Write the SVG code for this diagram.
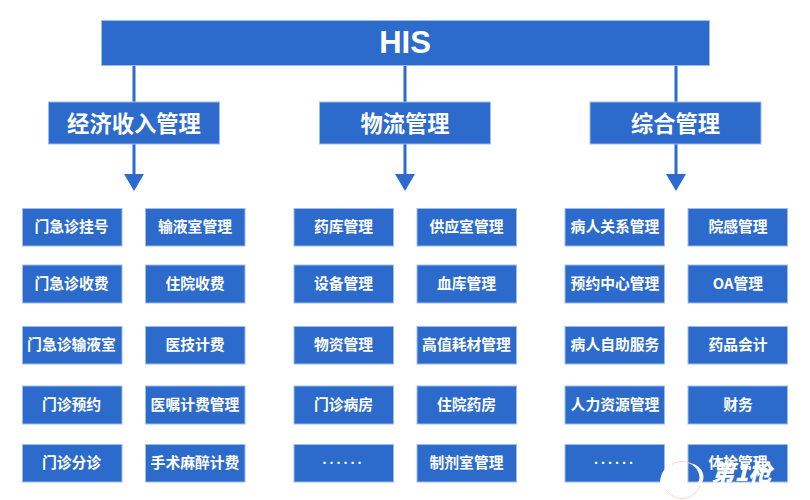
<svg xmlns="http://www.w3.org/2000/svg" width="810" height="500" viewBox="0 0 810 500">
<style>
text{font-family:"Noto Sans CJK SC","Liberation Sans",sans-serif;fill:#fff;text-anchor:middle;dominant-baseline:central}
.box{fill:#2c6bcb;stroke:#9dbdec;stroke-width:1}
.leaf text{font-size:14.800px;font-weight:700;transform:translateY(-1.500px)}
.mid text{font-size:22.300px;font-weight:700;transform:translateY(-1.500px)}
.leaf text.dots{font-family:"Liberation Sans",sans-serif;font-size:14.500px;letter-spacing:3px;transform:translateY(-4px)}
.line{stroke:#2c6bcb;stroke-width:3;fill:none}
.head{fill:#2c6bcb}
</style>
<rect width="810" height="500" fill="#fff"/>
<g id="connectors">
<path class="line" d="M134 65V102M405 65V102M676 65V102M134 144V176M405 144V176M676 144V176"/>
<path class="head" d="M124 174H144L134 191ZM395 174H415L405 191ZM666 174H686L676 191Z"/>
</g>
<g id="his"><rect class="box" x="101.500" y="20.500" width="608" height="45"/><text x="405" y="42.500" style="font-family:'Liberation Sans',sans-serif;font-size:31px;font-weight:700">HIS</text></g>
<g id="cat1" class="mid"><rect class="box" x="48.500" y="102" width="171" height="42"/><text x="134" y="123">经济收入管理</text></g>
<g id="cat2" class="mid"><rect class="box" x="319.500" y="102" width="171" height="42"/><text x="405" y="123">物流管理</text></g>
<g id="cat3" class="mid"><rect class="box" x="590" y="102" width="171" height="42"/><text x="675.500" y="123">综合管理</text></g>
<g id="n11" class="leaf"><rect class="box" x="22.500" y="208.500" width="99.500" height="37.500"/><text x="71.500" y="227">门急诊挂号</text></g>
<g id="n12" class="leaf"><rect class="box" x="145.500" y="208.500" width="99.500" height="37.500"/><text x="195" y="227">输液室管理</text></g>
<g id="n21" class="leaf"><rect class="box" x="22.500" y="265" width="99.500" height="38"/><text x="71.500" y="284">门急诊收费</text></g>
<g id="n22" class="leaf"><rect class="box" x="145.500" y="265" width="99.500" height="38"/><text x="195" y="284">住院收费</text></g>
<g id="n31" class="leaf"><rect class="box" x="22.500" y="326.500" width="99.500" height="37.500"/><text x="71.500" y="345">门急诊输液室</text></g>
<g id="n32" class="leaf"><rect class="box" x="145.500" y="326.500" width="99.500" height="37.500"/><text x="195" y="345">医技计费</text></g>
<g id="n41" class="leaf"><rect class="box" x="22.500" y="386" width="99.500" height="38"/><text x="71.500" y="405">门诊预约</text></g>
<g id="n42" class="leaf"><rect class="box" x="145.500" y="386" width="99.500" height="38"/><text x="195" y="405">医嘱计费管理</text></g>
<g id="n51" class="leaf"><rect class="box" x="22.500" y="444.500" width="99.500" height="37.500"/><text x="71.500" y="463">门诊分诊</text></g>
<g id="n52" class="leaf"><rect class="box" x="145.500" y="444.500" width="99.500" height="37.500"/><text x="195" y="463">手术麻醉计费</text></g>
<g id="n13" class="leaf"><rect class="box" x="294" y="208.500" width="99.500" height="37.500"/><text x="343.500" y="227">药库管理</text></g>
<g id="n14" class="leaf"><rect class="box" x="417" y="208.500" width="99.500" height="37.500"/><text x="466.500" y="227">供应室管理</text></g>
<g id="n23" class="leaf"><rect class="box" x="294" y="265" width="99.500" height="38"/><text x="343.500" y="284">设备管理</text></g>
<g id="n24" class="leaf"><rect class="box" x="417" y="265" width="99.500" height="38"/><text x="466.500" y="284">血库管理</text></g>
<g id="n33" class="leaf"><rect class="box" x="294" y="326.500" width="99.500" height="37.500"/><text x="343.500" y="345">物资管理</text></g>
<g id="n34" class="leaf"><rect class="box" x="417" y="326.500" width="99.500" height="37.500"/><text x="466.500" y="345">高值耗材管理</text></g>
<g id="n43" class="leaf"><rect class="box" x="294" y="386" width="99.500" height="38"/><text x="343.500" y="405">门诊病房</text></g>
<g id="n44" class="leaf"><rect class="box" x="417" y="386" width="99.500" height="38"/><text x="466.500" y="405">住院药房</text></g>
<g id="n53" class="leaf"><rect class="box" x="294" y="444.500" width="99.500" height="37.500"/><text class="dots" x="343.500" y="463">......</text></g>
<g id="n54" class="leaf"><rect class="box" x="417" y="444.500" width="99.500" height="37.500"/><text x="466.500" y="463">制剂室管理</text></g>
<g id="n15" class="leaf"><rect class="box" x="565" y="208.500" width="99.500" height="37.500"/><text x="615" y="227">病人关系管理</text></g>
<g id="n16" class="leaf"><rect class="box" x="688" y="208.500" width="99.500" height="37.500"/><text x="738" y="227">院感管理</text></g>
<g id="n25" class="leaf"><rect class="box" x="565" y="265" width="99.500" height="38"/><text x="615" y="284">预约中心管理</text></g>
<g id="n26" class="leaf"><rect class="box" x="688" y="265" width="99.500" height="38"/><text x="738" y="284">OA管理</text></g>
<g id="n35" class="leaf"><rect class="box" x="565" y="326.500" width="99.500" height="37.500"/><text x="615" y="345">病人自助服务</text></g>
<g id="n36" class="leaf"><rect class="box" x="688" y="326.500" width="99.500" height="37.500"/><text x="738" y="345">药品会计</text></g>
<g id="n45" class="leaf"><rect class="box" x="565" y="386" width="99.500" height="38"/><text x="615" y="405">人力资源管理</text></g>
<g id="n46" class="leaf"><rect class="box" x="688" y="386" width="99.500" height="38"/><text x="738" y="405">财务</text></g>
<g id="n55" class="leaf"><rect class="box" x="565" y="444.500" width="99.500" height="37.500"/><text class="dots" x="615" y="463">......</text></g>
<g id="n56" class="leaf"><rect class="box" x="688" y="444.500" width="99.500" height="37.500"/><text x="738" y="463">体检管理</text></g>
<g id="watermark">
<circle cx="682" cy="480" r="18.500" fill="none" stroke="#f6d8cc" stroke-width="1"/>
<path d="M660 483C660 472 667 465 673 463C666 471 666 482 670 490C665 489 660 487 660 483Z" fill="#fff"/>
<path d="M690 463C702 469 703 482 692 489L698 487C708 480 704 466 690 463Z" fill="#fff"/>
<text x="741.500" y="471" style="font-size:23px;font-weight:900;font-style:italic">第1枪</text>
</g>
</svg>
